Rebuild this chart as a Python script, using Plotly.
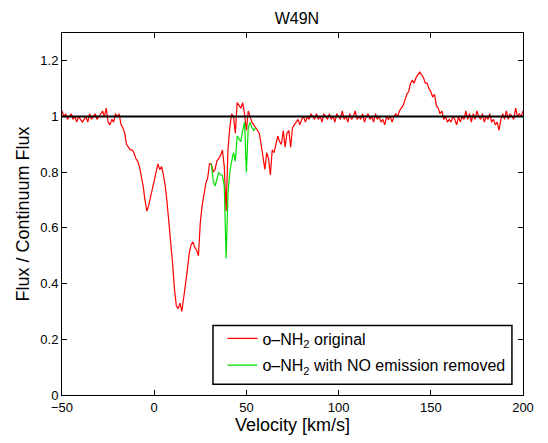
import numpy as np
import plotly.graph_objects as go

# velocity grid, 1 km/s channels from -50 to 200
VEL = np.arange(-50, 201, 1)

# o-NH2 original (red), one value per channel
FLUX_ORIG = [
    1.02, 1.00, 1.01, 0.99, 1.00, 1.01, 0.99, 1.00, 0.98, 1.00,   # -50..-41
    0.99, 0.98, 0.99, 1.00, 0.98, 1.01, 0.99, 1.00, 1.01, 0.99,   # -40..-31
    1.00, 1.01, 1.02, 1.00, 1.03, 0.98, 0.97, 0.99, 0.98, 1.01,   # -30..-21
    1.00, 1.01, 0.97, 0.96, 0.94, 0.90, 0.89, 0.88, 0.88, 0.87,   # -20..-11
    0.85, 0.84, 0.82, 0.79, 0.75, 0.70, 0.66, 0.68, 0.71, 0.74,   # -10..-1
    0.77, 0.81, 0.83, 0.81, 0.82, 0.79, 0.75, 0.69, 0.62, 0.54,   # 0..9
    0.47, 0.38, 0.32, 0.31, 0.33, 0.30, 0.36, 0.40, 0.45, 0.51,   # 10..19
    0.54, 0.55, 0.53, 0.52, 0.50, 0.62, 0.68, 0.73, 0.76, 0.78,   # 20..29
    0.83, 0.83, 0.80, 0.81, 0.84, 0.85, 0.86, 0.88, 0.82, 0.66,   # 30..39
    0.88, 0.96, 1.01, 1.00, 0.94, 1.05, 1.04, 1.03, 1.05, 1.01,   # 40..49
    0.95, 1.02, 1.00, 0.98, 0.97, 0.96, 0.95, 0.94, 0.90, 0.86,   # 50..59
    0.81, 0.87, 0.85, 0.79, 0.88, 0.87, 0.90, 0.93, 0.91, 0.90,   # 60..69
    0.95, 0.89, 0.94, 0.95, 0.89, 0.96, 0.97, 0.98, 0.99, 0.97,   # 70..79
    0.99, 1.00, 0.98, 1.00, 0.99, 1.01, 1.00, 0.99, 1.01, 0.99,   # 80..89
    1.00, 0.98, 1.01, 1.00, 0.99, 1.01, 0.99, 1.00, 0.98, 1.01,   # 90..99
    1.00, 0.99, 1.02, 0.99, 1.00, 0.98, 1.01, 0.99, 1.00, 1.02,   # 100..109
    0.99, 1.00, 0.99, 1.01, 0.98, 1.00, 1.01, 0.99, 1.00, 0.98,   # 110..119
    1.01, 0.99, 1.00, 0.98, 0.99, 0.97, 1.00, 0.99, 1.00, 0.98,   # 120..129
    1.00, 1.01, 1.00, 1.02, 1.03, 1.04, 1.06, 1.08, 1.09, 1.12,   # 130..139
    1.13, 1.12, 1.14, 1.15, 1.16, 1.15, 1.14, 1.12, 1.12, 1.10,   # 140..149
    1.09, 1.07, 1.08, 1.04, 1.03, 1.01, 1.02, 0.99, 1.00, 0.98,   # 150..159
    0.99, 0.98, 1.00, 0.99, 0.97, 1.00, 0.98, 1.00, 0.99, 1.02,   # 160..169
    0.99, 1.01, 0.98, 1.01, 0.99, 1.02, 1.00, 0.99, 1.01, 0.98,   # 170..179
    1.00, 0.99, 1.01, 0.98, 0.99, 0.97, 0.98, 0.95, 0.99, 1.01,   # 180..189
    0.99, 1.02, 0.99, 1.01, 1.00, 0.99, 1.03, 1.00, 1.01, 1.00,   # 190..199
    1.02,                                                         # 200
]

# o-NH2 with NO emission removed (green), 31..55 km/s
VEL_CLEAN = np.arange(31, 56, 1)
FLUX_CLEAN = [
    0.83, 0.77, 0.75, 0.78, 0.80, 0.79, 0.79, 0.75, 0.49, 0.72,   # 31..40
    0.80, 0.84, 0.87, 0.84, 0.93, 0.92, 0.91, 0.95, 0.98, 0.80,   # 41..50
    0.96, 0.98, 0.96, 0.95, 0.96,                                 # 51..55
]

X_TICKS = [-50, 0, 50, 100, 150, 200]
Y_TICKS = [0, 0.2, 0.4, 0.6, 0.8, 1, 1.2]
Y_TICK_TEXT = ["0", "0.2", "0.4", "0.6", "0.8", "1", "1.2"]

FONT = "Liberation Sans, Arial, Helvetica, sans-serif"

fig = go.Figure()
fig.add_trace(go.Scatter(
    x=VEL, y=FLUX_ORIG, mode="lines",
    line=dict(color="#ff0000", width=1.2),
    name="o\u2013NH<sub>2</sub> original", legendgroup="a",
))
fig.add_trace(go.Scatter(
    x=VEL_CLEAN, y=FLUX_CLEAN, mode="lines",
    line=dict(color="#00e000", width=1.2),
    name="o\u2013NH<sub>2</sub> with NO emission removed", legendgroup="b",
))
fig.add_hline(y=1, line=dict(color="black", width=2))

# legend frame (MATLAB style box)
fig.add_shape(type="rect", xref="paper", yref="paper",
              x0=0.3275, x1=0.976, y0=0.030, y1=0.192,
              line=dict(color="black", width=1.5), fillcolor="white", layer="above")

axis_common = dict(
    showgrid=False, zeroline=False,
    showline=True, linecolor="black", linewidth=1, mirror="ticks",
    ticks="inside", ticklen=5, tickcolor="black",
    tickfont=dict(size=13, color="black", family=FONT),
)
fig.update_xaxes(
    range=[-50, 200], tickvals=X_TICKS,
    title=dict(text="Velocity [km/s]", font=dict(size=18, color="black", family=FONT), standoff=4),
    **axis_common,
)
fig.update_yaxes(
    range=[0, 1.3], tickvals=Y_TICKS, ticktext=Y_TICK_TEXT,
    title=dict(text="Flux / Continuum Flux", font=dict(size=18, color="black", family=FONT), standoff=6),
    **axis_common,
)

# page body has an 8px margin, so the figure is shrunk to keep the same plot box
fig.update_layout(
    width=540, height=435,
    margin=dict(l=54, r=25, t=25, b=45),
    paper_bgcolor="white", plot_bgcolor="white",
    title=dict(text="W49N", x=0.535, xanchor="center", y=0.975, yanchor="middle",
               font=dict(size=16, color="black", family=FONT)),
    showlegend=True,
    legend=dict(
        x=0.348, y=0.203, xanchor="left", yanchor="top",
        bgcolor="rgba(0,0,0,0)", borderwidth=0,
        font=dict(size=16, color="black", family=FONT),
        tracegroupgap=3,
    ),
)

fig.write_html("out.html")
